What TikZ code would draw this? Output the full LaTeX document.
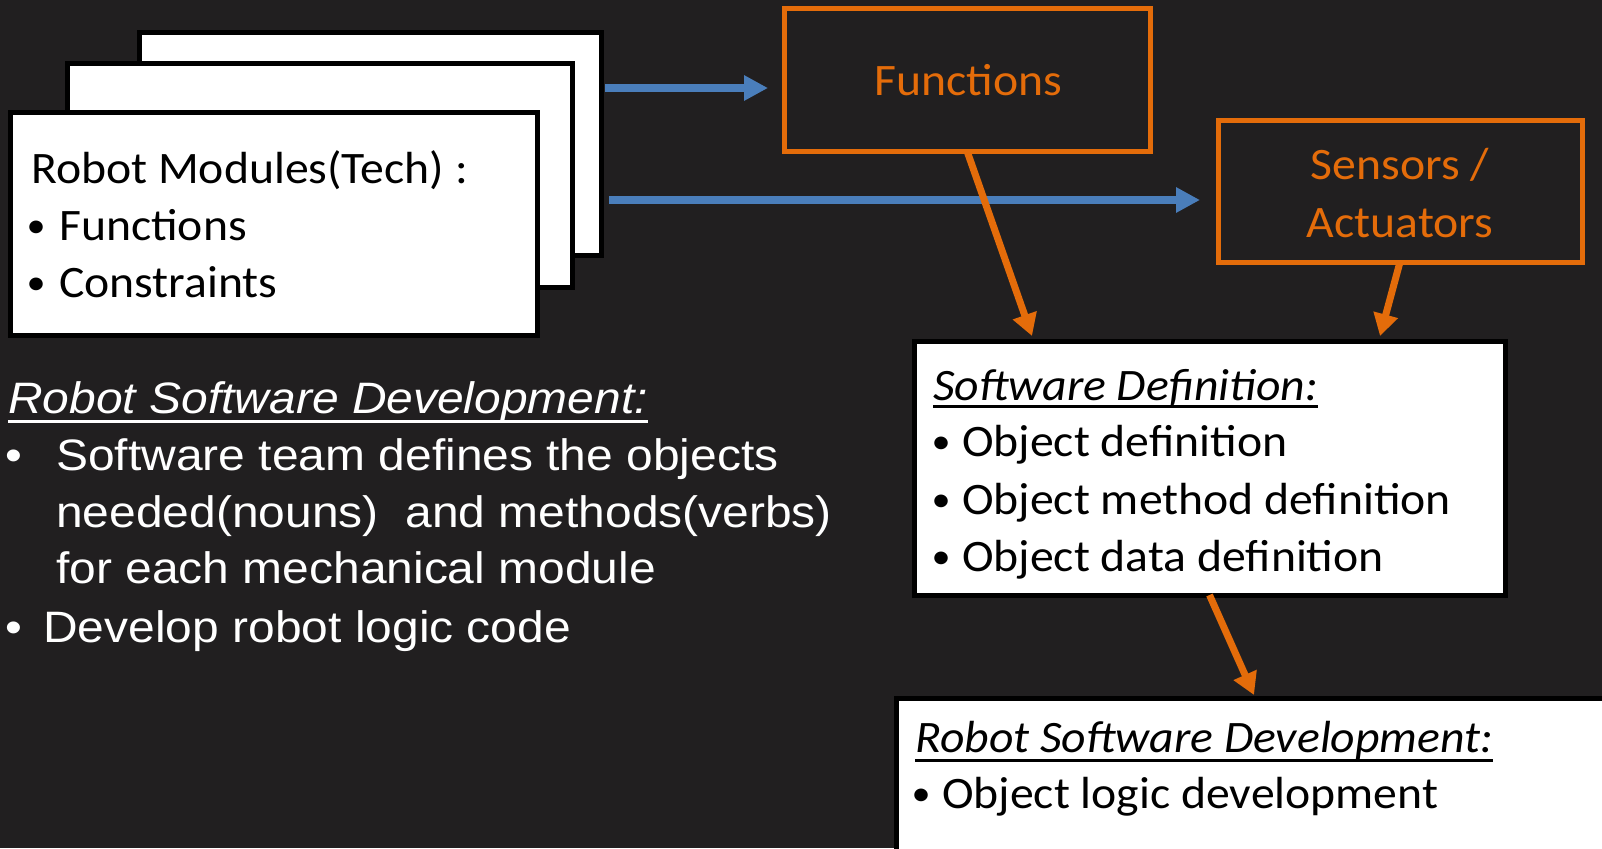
\documentclass[tikz,border=0pt]{standalone}
\usepackage{fontspec}
\setmainfont{Carlito}
\newfontfamily\calfont[FakeStretch=1.06]{Carlito}
\newfontfamily\arfont[FakeStretch=1.09]{Liberation Sans}
\usetikzlibrary{arrows.meta,calc,fit}
\definecolor{bg}{HTML}{211F20}
\definecolor{accent}{HTML}{E46C0A}
\definecolor{flow}{HTML}{4A7EBB}
% bullet centred in a box of the given width
\newcommand\bul[1]{\makebox[#1][c]{\raisebox{3pt}{\scalebox{0.8}{•}}}}
\newcommand\abul[1]{\makebox[#1][c]{•}}
\begin{document}
\begin{tikzpicture}[x=1pt,y=-1pt,
  card/.style={draw=black, fill=white, line width=5pt, inner sep=0pt, outer sep=0pt},
  topic/.style={draw=accent, line width=5pt, inner sep=0pt, outer sep=0pt},
  ctext/.style={inner sep=0pt, anchor=base west, text=black,
    font=\calfont\fontsize{45}{54}\selectfont},
  otext/.style={inner sep=0pt, anchor=base, text=accent,
    font=\calfont\fontsize{45}{54}\selectfont},
  atext/.style={inner sep=0pt, anchor=base west, text=white,
    font=\arfont\fontsize{44}{52}\selectfont},
  bluearr/.style={draw=flow, line width=8pt, -{Triangle[length=24pt,width=24pt]}},
  orangearr/.style={draw=accent, line width=7pt, -{Triangle[length=22pt,width=24pt]}},
]
\useasboundingbox (0,0) rectangle (1602,848);
\fill[bg] (0,0) rectangle (1602,848);

% stacked module cards
\node[card, fit={(139,33)(601,255)}] (card3) {};
\node[card, fit={(67,64)(572,287)}] (card2) {};
\node[card, fit={(10,113)(537,335)}] (card1) {};
\node[ctext] (c1) at (31,183) {Robot Modules(Tech) :};
\node[ctext] (c2) at (13,240) {\bul{46pt}Functions};
\node[ctext] (c3) at (13,297) {\bul{46pt}Constraints};

% orange topic boxes
\node[topic, fit={(784,9)(1150,151)}] (fun) {};
\node[otext] (funt) at (968.5,96) {Functions};
\node[topic, fit={(1218,121)(1582,262)}] (sen) {};
\node[otext] (sen1) at (1400,179) {Sensors /};
\node[otext] (sen2) at (1400,237) {Actuators};

% software definition box
\node[card, fit={(914,341)(1505,595)}] (sd) {};
\node[ctext] (sdt) at (933,400) {\textit{Software Definition:}};
\draw[black, line width=3pt] ([yshift=-6pt]sdt.base west) -- ([yshift=-6pt]sdt.base east);
\node[ctext] (sd1) at (920,456) {\bul{42pt}Object definition};
\node[ctext] (sd2) at (920,514) {\bul{42pt}Object method definition};
\node[ctext] (sd3) at (920,571) {\bul{42pt}Object data definition};

% robot software development box
\node[card, fit={(896,698)(1640,890)}] (rsd) {};
\node[ctext] (rsdt) at (915,752) {\textit{Robot Software Development:}};
\draw[black, line width=3pt] ([yshift=-8pt]rsdt.base west) -- ([yshift=-8pt]rsdt.base east);
\node[ctext] (rsd1) at (900,808) {\bul{42pt}Object logic development};

% left-hand notes
\node[atext] (lt) at (8,413) {\textit{Robot Software Development:}};
\draw[white, line width=3pt] ([yshift=-8pt]lt.base west) -- ([yshift=-8pt]lt.base east);
\node[atext] (l1) at (-28,470) {\abul{84pt}Software team defines the objects};
\node[atext] (l2) at (56,527) {needed(nouns)\ \ and methods(verbs)};
\node[atext] (l3) at (56,583) {for each mechanical module};
\node[atext] (l4) at (-15,642) {\abul{58pt}Develop robot logic code};

% connectors
\draw[bluearr] ($(card3.north east)+(4,55)$) -- ($(fun.west)+(-16,8)$);
\draw[bluearr] ($(card3.north east)+(8,167)$) -- ($(sen.west)+(-18,8.5)$);
\draw[orangearr] (fun.south) -- ($(sd.north west)+(118,-5)$);
\draw[orangearr] (sen.south) -- ($(sd.north east)+(-125,-5)$);
\draw[orangearr] (sd.south) -- ($(rsd.north west)+(358,-3)$);
\end{tikzpicture}
\end{document}
